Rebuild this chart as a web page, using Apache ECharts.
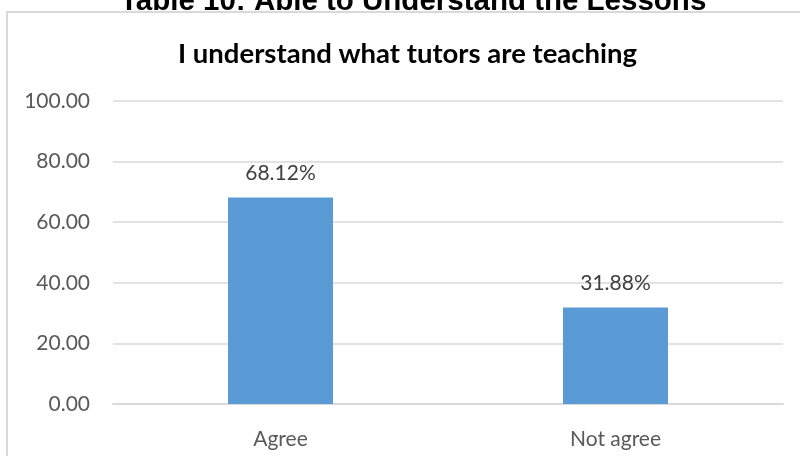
<!DOCTYPE html>
<html>
<head>
<meta charset="utf-8">
<script src="https://cdn.jsdelivr.net/npm/echarts@6/dist/echarts.min.js"></script>
<style>
  html, body { margin: 0; padding: 0; background: #fff; }
  #chart { width: 800px; height: 456px; }
</style>
</head>
<body>
<div id="chart"></div>
<script>
// 数据
var categories = ['Agree', 'Not agree'];
var values = [68.12, 31.88];
var yTicks = [0, 20, 40, 60, 80, 100];

var myChart = echarts.init(document.getElementById('chart'));
myChart.setOption({
    animation: false,
    backgroundColor: '#fff',
    graphic: [
        // 外框 (右下被裁掉)
        {
            type: 'rect',
            shape: { x: 7, y: 12, width: 820, height: 470 },
            style: { fill: 'none', stroke: '#d9d9d9', lineWidth: 2 },
            z: -1
        },
        // 顶部被截断的标题
        {
            type: 'text',
            left: 120,
            top: -13,
            style: {
                text: 'Table 10: Able to Understand the Lessons',
                font: 'bold 29.5px "Liberation Sans", Arial',
                fill: '#000'
            }
        },
        {
            type: 'text',
            left: 178,
            top: 40,
            style: {
                text: 'I understand what tutors are teaching',
                font: 'bold 27.5px Lato',
                fill: '#000'
            }
        }
    ],
    grid: {
        left: 113,
        right: 17,
        top: 101,
        bottom: 52
    },
    xAxis: {
        type: 'category',
        data: categories,
        axisLine: { lineStyle: { color: '#d9d9d9', width: 2 } },
        axisTick: { show: false },
        axisLabel: { color: '#595959', fontSize: 21, fontFamily: 'Lato', margin: 25 }
    },
    yAxis: {
        type: 'value',
        min: yTicks[0],
        max: yTicks[yTicks.length - 1],
        interval: 20,
        axisLine: { show: false },
        axisTick: { show: false },
        axisLabel: {
            color: '#595959',
            fontSize: 21,
            fontFamily: 'Lato',
            margin: 23,
            formatter: function (v) { return v.toFixed(2); }
        },
        splitLine: { lineStyle: { color: '#d9d9d9', width: 1.5 } }
    },
    series: [
        {
            type: 'bar',
            data: values,
            barWidth: 105,
            itemStyle: { color: '#5b9bd5' },
            label: {
                show: true,
                position: 'top',
                distance: 14,
                color: '#404040',
                fontSize: 21,
                fontFamily: 'Lato',
                formatter: '{c}%'
            }
        }
    ]
});
</script>
</body>
</html>
